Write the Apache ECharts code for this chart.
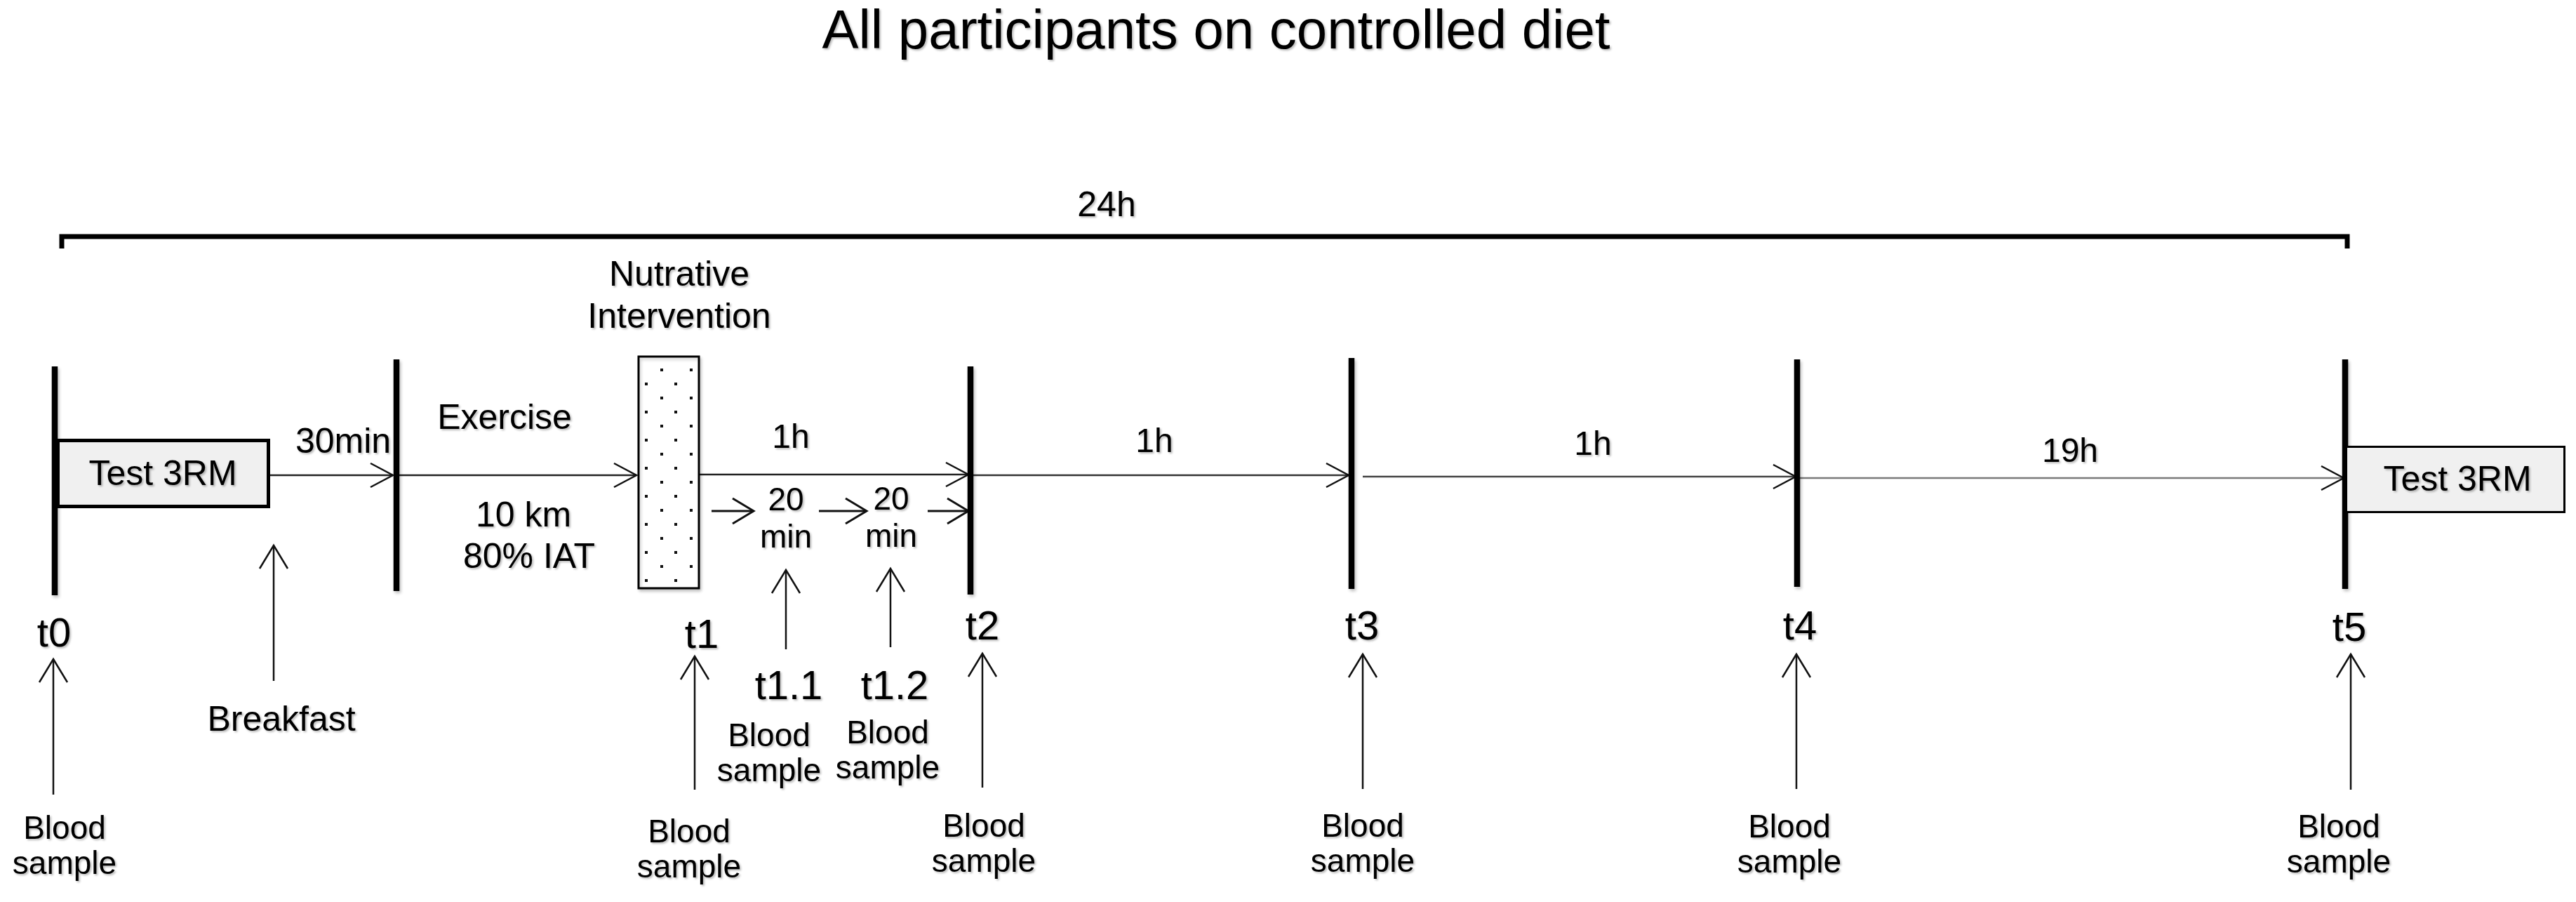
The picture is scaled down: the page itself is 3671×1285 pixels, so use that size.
<!DOCTYPE html>
<html>
<head>
<meta charset="utf-8">
<title>Study timeline</title>
<script src="https://cdn.jsdelivr.net/npm/echarts@6/dist/echarts.min.js"></script>
<style>
  html, body { margin: 0; padding: 0; background: #fff; }
  #chart { width: 3671px; height: 1285px; }
</style>
</head>
<body>
<div id="chart"></div>
<script>
"use strict";

var W = 3671, H = 1285;

// schematic positions along the protocol (axis units = reference layout)
var markerX   = [78, 565, 1383, 1926, 2561, 3342];
var markerTop = [522, 512, 522, 510, 512, 512];
var markerBot = [848, 842, 847, 839, 836, 839];

// main timeline segments
var segFrom = [385, 565, 996, 1383, 1942, 2561];
var segTo   = [560, 907, 1380, 1922, 2559, 3340];
var segY    = [677, 677, 676, 677, 679, 681];

// 20 min sub steps after the intervention
var stepFrom = [1014, 1167, 1322];
var stepTo   = [1074, 1235, 1380];
var stepY    = [728, 728, 728];

// upward arrows (blood samples + breakfast)
var upX   = [76, 390, 990, 1120, 1269, 1400, 1942, 2560, 3350];
var upTip = [939, 777, 935, 812, 810, 931, 932, 932, 932];
var upEnd = [1132, 970, 1125, 925, 922, 1122, 1124, 1124, 1125];

// time point labels
var tpNames = ['t0', 't1', 't1.1', 't1.2', 't2', 't3', 't4', 't5'];
var tpX     = [77, 1000, 1124, 1275, 1400, 1941, 2565, 3348];
var tpY     = [905, 907, 980, 980, 895, 895, 895, 897];

// "Blood sample" captions
var bsX = [92, 982, 1096, 1265, 1402, 1942, 2550, 3333];
var bsY = [1182, 1187, 1050, 1046, 1179, 1179, 1180, 1180];

// phase / duration notes
var noteText = ['24h', '30min', 'Exercise', '10 km', '80% IAT', 'Breakfast', 'Nutrative\nIntervention'];
var noteX    = [1577, 489, 719, 746, 754, 401, 968];
var noteY    = [294, 631, 597, 736, 795, 1027, 423];

var durText = ['1h', '1h', '1h', '19h'];
var durX    = [1127, 1645, 2270, 2950];
var durY    = [625, 631, 635, 645];

var minText = ['20\nmin', '20\nmin'];
var minX    = [1120, 1270];
var minY    = [741, 740];

var titleText = ['All participants on controlled diet'];
var titleX    = [1733];
var titleY    = [47];

// boxes [x0, y0, x1, y1]
var testBoxes = [[80, 625, 385, 724], [3342, 635, 3656, 731]];
var testBorder = [5, 3];
var testLabelX = [232, 3502];
var testLabelY = [677, 685];
var nutritiveBox = [[910, 508, 996, 838]];

// 24h bracket
var bracket = [[88, 3345, 337, 354]];

var segColors = ['#222', '#222', '#222', '#333', '#444', '#7a7a7a'];
var FONT = 'Liberation Sans, Arial, sans-serif';
var shadow = {
    textShadowColor: 'rgba(0,0,0,0.28)',
    textShadowBlur: 3,
    textShadowOffsetX: 2,
    textShadowOffsetY: 2
};

function zip() {
    var arrs = Array.prototype.slice.call(arguments);
    return arrs[0].map(function (_, i) {
        return arrs.map(function (a) { return a[i]; });
    });
}

// dotted fill for the intervention block
function dotPattern() {
    var c = document.createElement('canvas');
    c.width = 42; c.height = 40;
    var g = c.getContext('2d');
    g.fillStyle = '#fff';
    g.fillRect(0, 0, 42, 40);
    g.fillStyle = '#111';
    g.fillRect(17, 5, 4, 4);
    g.fillRect(37, 25, 4, 4);
    return c;
}

function textItem(opt) {
    return function (params, api) {
        var p = api.coord([api.value(1), api.value(2)]);
        return {
            type: 'text',
            x: p[0], y: p[1],
            style: Object.assign({
                text: String(api.value(0)),
                fill: '#000',
                fontFamily: FONT,
                fontSize: opt.size,
                lineHeight: opt.lineHeight || opt.size,
                align: 'center',
                verticalAlign: 'middle'
            }, shadow)
        };
    };
}

function textSeries(name, data, opt) {
    return {
        type: 'custom', name: name, silent: true,
        renderItem: textItem(opt),
        encode: { x: 1, y: 2 },
        data: data,
        z: 10
    };
}

var option = {
    animation: false,
    backgroundColor: '#fff',
    grid: { left: 0, right: 0, top: 0, bottom: 0 },
    xAxis: { type: 'value', min: 0, max: W, show: false },
    yAxis: { type: 'value', min: 0, max: H, inverse: true, show: false },
    series: [
        {
            // 24h bracket
            type: 'custom', name: 'bracket', silent: true,
            encode: { x: [0, 1], y: [2, 3] },
            data: bracket,
            renderItem: function (params, api) {
                var a = api.coord([api.value(0), api.value(3)]);
                var b = api.coord([api.value(0), api.value(2)]);
                var c = api.coord([api.value(1), api.value(2)]);
                var d = api.coord([api.value(1), api.value(3)]);
                return {
                    type: 'polyline',
                    shape: { points: [a, b, c, d] },
                    style: { stroke: '#000', lineWidth: 7, fill: null, lineJoin: 'miter' }
                };
            }
        },
        {
            // main timeline arrows
            type: 'custom', name: 'timeline', silent: true,
            encode: { x: [0, 1], y: 2 },
            data: zip(segFrom, segTo, segY),
            renderItem: function (params, api) {
                var a = api.coord([api.value(0), api.value(2)]);
                var b = api.coord([api.value(1), api.value(2)]);
                var col = segColors[params.dataIndex];
                return {
                    type: 'group',
                    children: [
                        { type: 'line', shape: { x1: a[0], y1: a[1], x2: b[0], y2: b[1] },
                          style: { stroke: col, lineWidth: 2.5 } },
                        { type: 'polyline', shape: { points: [[b[0] - 32, b[1] - 17], b, [b[0] - 32, b[1] + 17]] },
                          style: { stroke: '#111', lineWidth: 2.5, fill: null } }
                    ]
                };
            }
        },
        {
            // 20 min steps
            type: 'custom', name: 'steps', silent: true,
            encode: { x: [0, 1], y: 2 },
            data: zip(stepFrom, stepTo, stepY),
            renderItem: function (params, api) {
                var a = api.coord([api.value(0), api.value(2)]);
                var b = api.coord([api.value(1), api.value(2)]);
                return {
                    type: 'group',
                    children: [
                        { type: 'line', shape: { x1: a[0], y1: a[1], x2: b[0], y2: b[1] },
                          style: { stroke: '#111', lineWidth: 3 } },
                        { type: 'polyline', shape: { points: [[b[0] - 30, b[1] - 18], b, [b[0] - 30, b[1] + 18]] },
                          style: { stroke: '#111', lineWidth: 3, fill: null } }
                    ]
                };
            }
        },
        {
            // upward arrows
            type: 'custom', name: 'samples', silent: true,
            encode: { x: 0, y: [1, 2] },
            data: zip(upX, upTip, upEnd),
            renderItem: function (params, api) {
                var t = api.coord([api.value(0), api.value(1)]);
                var e = api.coord([api.value(0), api.value(2)]);
                return {
                    type: 'group',
                    children: [
                        { type: 'line', shape: { x1: t[0], y1: t[1], x2: e[0], y2: e[1] },
                          style: { stroke: '#111', lineWidth: 2.5 } },
                        { type: 'polyline', shape: { points: [[t[0] - 20, t[1] + 33], t, [t[0] + 20, t[1] + 33]] },
                          style: { stroke: '#111', lineWidth: 2.5, fill: null } }
                    ]
                };
            }
        },
        {
            // thick phase markers
            type: 'custom', name: 'markers', silent: true,
            encode: { x: 0, y: [1, 2] },
            data: zip(markerX, markerTop, markerBot),
            renderItem: function (params, api) {
                var a = api.coord([api.value(0), api.value(1)]);
                var b = api.coord([api.value(0), api.value(2)]);
                return {
                    type: 'line',
                    shape: { x1: a[0], y1: a[1], x2: b[0], y2: b[1] },
                    style: {
                        stroke: '#000', lineWidth: 8.5,
                        shadowColor: 'rgba(0,0,0,0.25)', shadowBlur: 4, shadowOffsetX: 2, shadowOffsetY: 3
                    }
                };
            },
            z: 3
        },
        {
            // Test 3RM boxes
            type: 'custom', name: 'tests', silent: true,
            encode: { x: [0, 2], y: [1, 3] },
            data: testBoxes,
            renderItem: function (params, api) {
                var a = api.coord([api.value(0), api.value(1)]);
                var b = api.coord([api.value(2), api.value(3)]);
                var lw = testBorder[params.dataIndex];
                return {
                    type: 'rect',
                    shape: { x: a[0] + lw / 2, y: a[1] + lw / 2, width: b[0] - a[0] - lw, height: b[1] - a[1] - lw },
                    style: { fill: '#f0f0f0', stroke: '#000', lineWidth: lw }
                };
            },
            z: 4
        },
        {
            // nutritive intervention block
            type: 'custom', name: 'intervention', silent: true,
            encode: { x: [0, 2], y: [1, 3] },
            data: nutritiveBox,
            renderItem: function (params, api) {
                var a = api.coord([api.value(0), api.value(1)]);
                var b = api.coord([api.value(2), api.value(3)]);
                return {
                    type: 'rect',
                    shape: { x: a[0], y: a[1], width: b[0] - a[0], height: b[1] - a[1] },
                    style: {
                        fill: { image: dotPattern(), repeat: 'repeat' },
                        stroke: '#000', lineWidth: 3,
                        shadowColor: 'rgba(0,0,0,0.2)', shadowBlur: 4, shadowOffsetX: 2, shadowOffsetY: 3
                    }
                };
            },
            z: 4
        },
        textSeries('title', zip(titleText, titleX, titleY), { size: 78 }),
        textSeries('test labels', zip(['Test 3RM', 'Test 3RM'], testLabelX, testLabelY), { size: 50 }),
        textSeries('time points', zip(tpNames, tpX, tpY), { size: 58 }),
        textSeries('blood', zip(bsX.map(function () { return 'Blood\nsample'; }), bsX,
            bsY.map(function (y) { return y + 25; })), { size: 46, lineHeight: 50 }),
        textSeries('notes', zip(noteText, noteX, noteY), { size: 50, lineHeight: 60 }),
        textSeries('durations', zip(durText, durX, durY), { size: 48 }),
        textSeries('minutes', zip(minText, minX, minY), { size: 46, lineHeight: 53 })
    ]
};

var chart = echarts.init(document.getElementById('chart'));
chart.setOption(option);
</script>
</body>
</html>
